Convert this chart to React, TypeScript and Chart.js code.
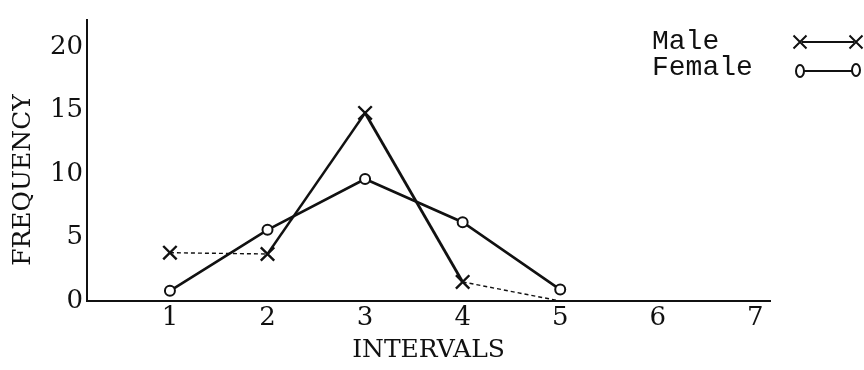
import React, { useEffect, useRef } from "react";
import { Chart, registerables } from "chart.js";

Chart.register(...registerables);

// Class intervals on the horizontal axis and the frequency of each group
const intervals = [1, 2, 3, 4, 5];
const maleFrequency = [3.8, 3.7, 14.8, 1.5, 0];
const femaleFrequency = [0.8, 5.6, 9.6, 6.2, 0.9];

const xTickValues = [1, 2, 3, 4, 5, 6, 7];
const yTickValues = [0, 5, 10, 15, 20];

const seriesNames = ["Male", "Female"];
const xTitle = "INTERVALS";
const yTitle = "FREQUENCY";

const INK = "#111";
const SERIF = '"DejaVu Serif", "Liberation Serif", serif';
const MONO = '"Liberation Mono", "DejaVu Sans Mono", monospace';

function drawCross(ctx: CanvasRenderingContext2D, x: number, y: number, r: number) {
  ctx.beginPath();
  ctx.moveTo(x - r, y - r);
  ctx.lineTo(x + r, y + r);
  ctx.moveTo(x + r, y - r);
  ctx.lineTo(x - r, y + r);
  ctx.stroke();
}

function drawOval(ctx: CanvasRenderingContext2D, x: number, y: number) {
  ctx.beginPath();
  ctx.ellipse(x, y, 4, 6, 0, 0, Math.PI * 2);
  ctx.fillStyle = "#fff";
  ctx.fill();
  ctx.stroke();
}

// Axis titles and the hand-drawn style key in the upper right
const annotations = {
  id: "annotations",
  afterDraw(chart: Chart) {
    const { ctx, chartArea } = chart;
    ctx.save();
    ctx.fillStyle = INK;
    ctx.strokeStyle = INK;

    ctx.font = `25px ${SERIF}`;
    ctx.textAlign = "center";
    ctx.textBaseline = "middle";
    ctx.fillText(xTitle, (chartArea.left + chartArea.right) / 2, 350);

    ctx.save();
    ctx.translate(23, 180);
    ctx.rotate(-Math.PI / 2);
    ctx.fillText(yTitle, 0, 0);
    ctx.restore();

    ctx.font = `28px ${MONO}`;
    ctx.textAlign = "left";
    ctx.fillText(seriesNames[0], 652, 42);
    ctx.fillText(seriesNames[1], 652, 68);

    ctx.lineWidth = 2;
    ctx.beginPath();
    ctx.moveTo(802, 42);
    ctx.lineTo(854, 42);
    ctx.stroke();
    drawCross(ctx, 800, 42, 6.5);
    drawCross(ctx, 856, 42, 6.5);

    ctx.beginPath();
    ctx.moveTo(804, 71);
    ctx.lineTo(852, 71);
    ctx.stroke();
    drawOval(ctx, 800, 71);
    drawOval(ctx, 856, 70);

    ctx.restore();
  },
};

export default function App() {
  const canvasRef = useRef<HTMLCanvasElement | null>(null);

  useEffect(() => {
    if (!canvasRef.current) return;

    const maleDash = [[4, 3], [], [], [4, 3]];
    const maleWidth = [1.4, 2.4, 2.8, 1.4];

    const chart = new Chart(canvasRef.current, {
      type: "line",
      data: {
        datasets: [
          {
            label: seriesNames[0],
            data: intervals.map((x, i) => ({ x, y: maleFrequency[i] })),
            borderColor: INK,
            borderWidth: 2.4,
            pointStyle: "crossRot",
            pointRadius: [9.5, 9.5, 9.5, 9.5, 0],
            pointBorderWidth: 2.4,
            pointBorderColor: INK,
            pointBackgroundColor: INK,
            tension: 0,
            segment: {
              borderDash: (c: any) => maleDash[c.p0DataIndex],
              borderWidth: (c: any) => maleWidth[c.p0DataIndex],
            },
          },
          {
            label: seriesNames[1],
            data: intervals.map((x, i) => ({ x, y: femaleFrequency[i] })),
            borderColor: INK,
            borderWidth: 2.6,
            pointStyle: "circle",
            pointRadius: 5,
            pointBorderWidth: 2,
            pointBorderColor: INK,
            pointBackgroundColor: "#fff",
            tension: 0,
          },
        ],
      },
      options: {
        responsive: false,
        animation: false,
        devicePixelRatio: 1,
        layout: { padding: { top: 13, right: 94, left: 0, bottom: 0 } },
        plugins: {
          legend: { display: false },
          tooltip: { enabled: false },
        },
        scales: {
          x: {
            type: "linear",
            min: 0.15,
            max: 7.15,
            grid: { display: false, drawTicks: false },
            border: { display: true, color: INK, width: 2 },
            afterBuildTicks: (scale: any) => {
              scale.ticks = xTickValues.map((value) => ({ value }));
            },
            afterFit: (scale: any) => {
              scale.height = 69;
            },
            ticks: {
              color: INK,
              font: { family: SERIF, size: 26 },
              padding: 2,
              maxRotation: 0,
              autoSkip: false,
            },
          },
          y: {
            type: "linear",
            min: 0,
            max: 22.15,
            grid: { display: false, drawTicks: false },
            border: { display: true, color: INK, width: 2 },
            afterBuildTicks: (scale: any) => {
              scale.ticks = yTickValues.map((value) => ({ value }));
            },
            afterFit: (scale: any) => {
              scale.width = 87;
            },
            ticks: {
              color: INK,
              font: { family: SERIF, size: 26 },
              padding: 4,
              autoSkip: false,
            },
          },
        },
      },
      plugins: [annotations],
    });

    return () => chart.destroy();
  }, []);

  return (
    <div style={{ position: "absolute", left: 0, top: 0, width: 864, height: 370, background: "#fff" }}>
      <canvas ref={canvasRef} width={864} height={370} />
    </div>
  );
}
